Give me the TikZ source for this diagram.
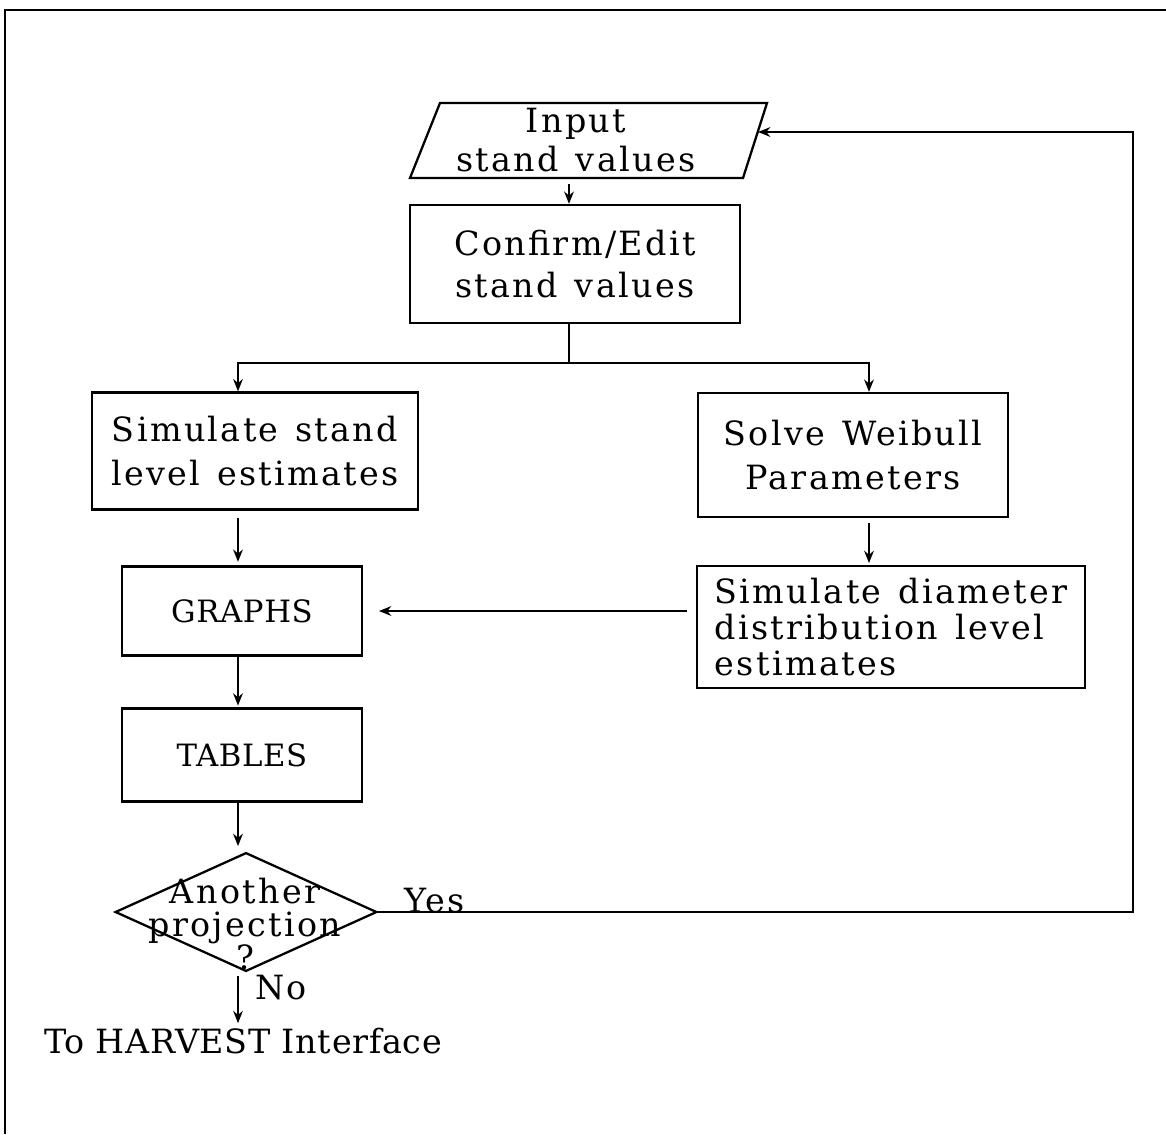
\documentclass[tikz,border=0pt]{standalone}
\usepackage{fontspec}
\setmainfont{DejaVu Serif}[LetterSpace=2]
\newfontfamily\spacedfont{DejaVu Serif}[LetterSpace=7,WordSpace=1.3]
\usetikzlibrary{arrows.meta,calc}
\begin{document}
\begin{tikzpicture}[x=0.02cm,y=-0.02cm,
  line width=1.6pt,
  txt/.style={font=\spacedfont\fontsize{19}{22}\selectfont, align=center, inner sep=0pt},
  stepbox/.style={draw, line width=1.3pt, txt},
  arr/.style={-{Stealth[length=7pt,width=5.5pt]}},
]
\useasboundingbox (0,0) rectangle (1166,1134);
% page frame (left and top edges)
\draw[line width=1.6pt] (5,1134) -- (5,10) -- (1166,10);

% input parallelogram
\draw[line width=1.3pt] (440,103) -- (767,103) -- (743,178) -- (410,178) -- cycle;
\node[txt, minimum height=75*0.02cm] (inp) at (576,140) {Input\\stand values};
\coordinate (inR) at (758,132);

% process boxes
\node[stepbox, minimum width=330*0.02cm, minimum height=118*0.02cm,
      font=\spacedfont\fontsize{19}{24}\selectfont] (conf) at (575,264) {Confirm/Edit\\stand values};
\node[stepbox, minimum width=326*0.02cm, minimum height=117*0.02cm,
      font=\spacedfont\fontsize{19}{25}\selectfont] (sim) at (255,451) {Simulate stand\\level estimates};
\node[stepbox, minimum width=310*0.02cm, minimum height=124*0.02cm,
      font=\spacedfont\fontsize{19}{25}\selectfont] (wei) at (853,455) {Solve Weibull\\Parameters};
\node[stepbox, minimum width=240*0.02cm, minimum height=89*0.02cm,
      font=\rmfamily\fontsize{17.5}{20}\selectfont] (gra) at (242,611) {GRAPHS};
\node[stepbox, minimum width=388*0.02cm, minimum height=122*0.02cm, align=left,
      font=\spacedfont\fontsize{19}{20.5}\selectfont] (dia) at (891,627)
      {Simulate diameter\\distribution level\\estimates};
\node[stepbox, minimum width=240*0.02cm, minimum height=93*0.02cm,
      font=\rmfamily\fontsize{17.5}{20}\selectfont] (tab) at (242,755) {TABLES};

% decision diamond
\node[minimum width=258*0.02cm, minimum height=115*0.02cm, inner sep=0pt] (dec) at (246,912) {};
\draw[line width=1.3pt] (dec.north) -- (dec.east) -- (dec.south) -- (dec.west) -- cycle;
\node[txt, font=\spacedfont\fontsize{19}{19}\selectfont] (dect) at (245,924) {Another\\projection\\?};

\node[txt, font=\rmfamily\fontsize{19}{22}\selectfont] (out) at (243,1041) {To HARVEST Interface};

% column guides
\coordinate (colL) at (238,0);
\coordinate (colR) at (869,0);
\coordinate (split) at (569,363);
\coordinate (loopc) at (1133,132);

% connectors
\draw[arr, shorten <=3pt] (inp.south -| split) -- (conf.north -| split);
\draw (conf.south -| split) -- (split);
\draw[arr] (split) -| (sim.north -| colL);
\draw[arr] (split) -| (wei.north -| colR);
\draw[arr, shorten <=4pt, shorten >=2pt] (sim.south -| colL) -- (gra.north -| colL);
\draw[arr, shorten <=3pt, shorten >=1pt] (wei.south -| colR) -- (dia.north -| colR);
\draw[arr, shorten <=5pt, shorten >=9pt] (dia.west |- gra.east) -- (gra.east);
\draw[arr, shorten >=1pt] (gra.south -| colL) -- (tab.north -| colL);
\draw[arr, shorten >=4pt] (tab.south -| colL) -- (dec.north -| colL);
\draw[arr, shorten <=3pt, shorten >=2pt] (dec.south -| colL) -- (out.north -| colL);
\draw[arr] (dec.east) -| (loopc) -- (inR);

% branch labels
\node[txt, anchor=south west] at (403,914) {Yes};
\node[txt, anchor=west] at (254,988) {No};
\end{tikzpicture}
\end{document}
